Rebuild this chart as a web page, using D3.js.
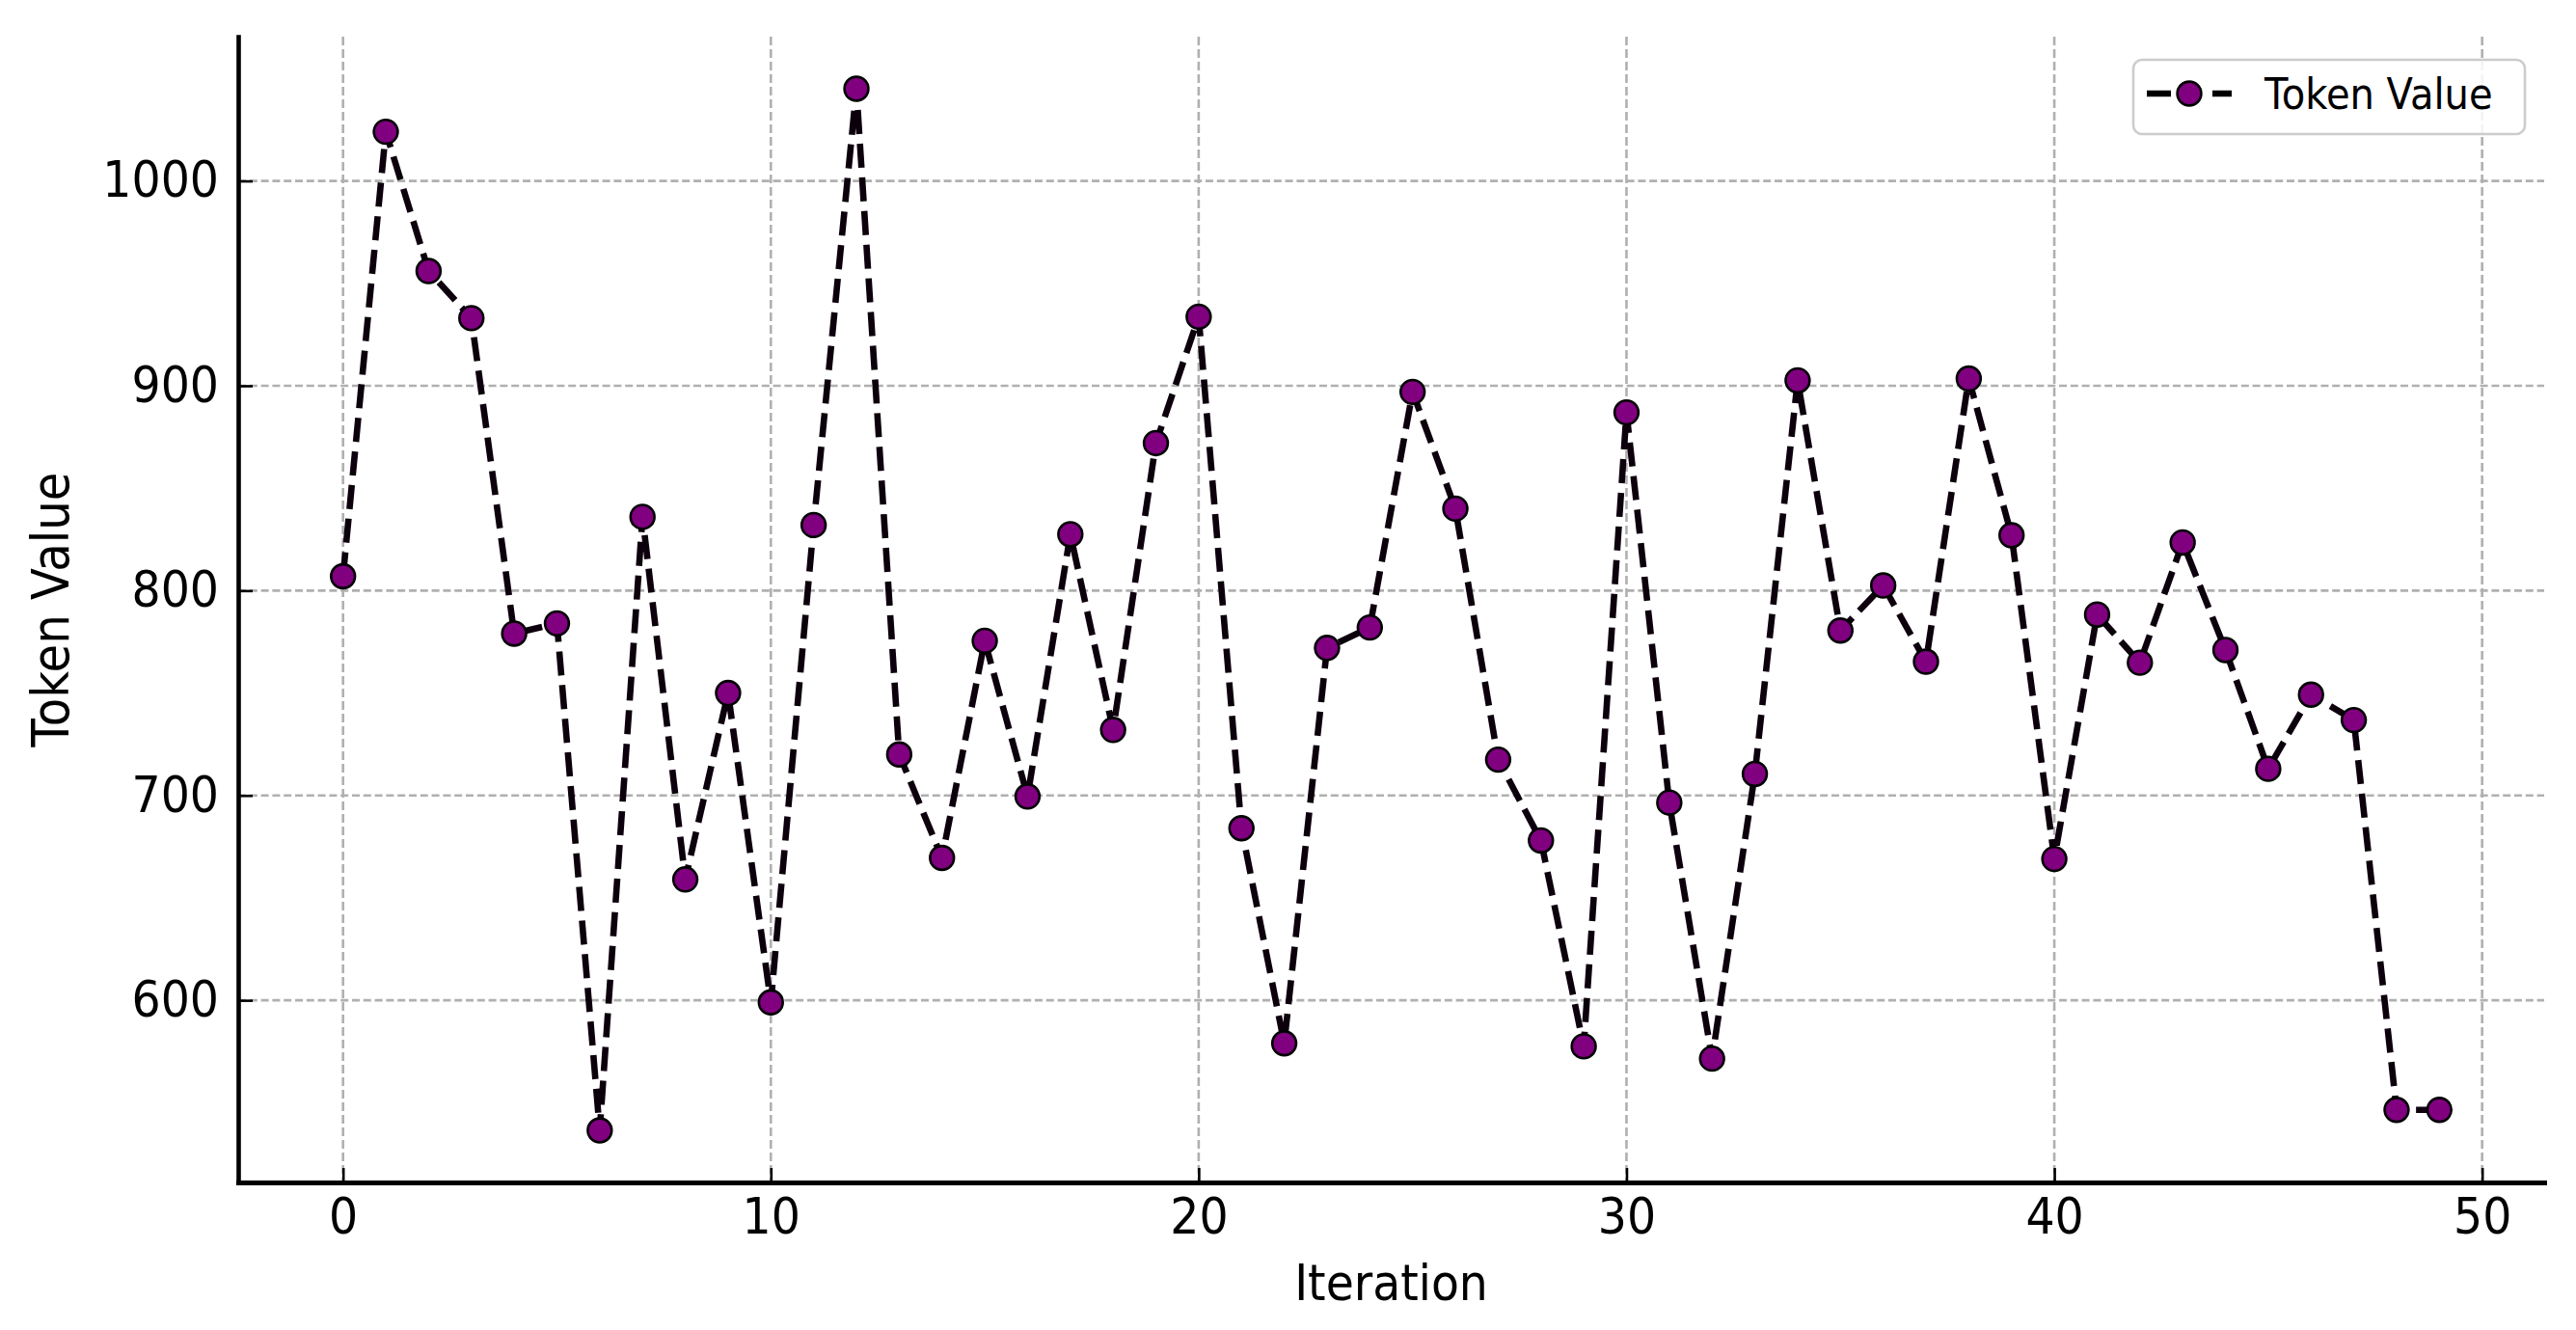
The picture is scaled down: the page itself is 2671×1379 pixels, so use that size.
<!DOCTYPE html>
<html><head><meta charset="utf-8">
<script src="https://cdn.jsdelivr.net/npm/d3@7"></script>
<style>
body{margin:0;background:#fff;}
svg text{font-family:"DejaVu Sans";fill:#000;}
</style></head>
<body>
<svg id="c" width="2671" height="1379"></svg>
<script>
// ---- data ----
const iterations = [0,1,2,3,4,5,6,7,8,9,10,11,12,13,14,15,16,17,18,19,20,21,22,23,24,25,26,27,28,29,30,31,32,33,34,35,36,37,38,39,40,41,42,43,44,45,46,47,48,49];
const tokenValues = [807,1024,956,933,779,784,536.5,836,659,750,599,832,1045,720,669.5,775.5,699.5,827.5,732,872,933.7,684,579,772,782,897,840,717.5,678,577.5,887,696.5,571.5,710.5,902.6,780.5,802.5,765.3,903.5,827,669,788.3,764.8,823.5,771,713,749.2,736.8,546.5,546.5];
const xTicks = [0,10,20,30,40,50];
const yTicks = [600,700,800,900,1000];
const seriesName = "Token Value";
const xLabel = "Iteration";
const yLabel = "Token Value";

// ---- layout ----
const W = 2671, H = 1379;
const m = {left:247, right:2638, top:38, bottom:1226};
const svg = d3.select("#c");
svg.append("rect").attr("width",W).attr("height",H).attr("fill","#fff");

const xr = d3.extent(iterations), xPad = (xr[1]-xr[0])*0.05;
const x = d3.scaleLinear().domain([xr[0]-xPad, xr[1]+xPad]).range([m.left, m.right]);
const yr = d3.extent(tokenValues), yPad = (yr[1]-yr[0])*0.05;
const y = d3.scaleLinear().domain([yr[0]-yPad, yr[1]+yPad]).range([m.bottom, m.top]);

// ---- grid ----
const grid = svg.append("g");
grid.selectAll("line.h").data(yTicks).join("line").attr("class","h")
  .attr("x1",m.left).attr("x2",m.right).attr("y1",d=>y(d)).attr("y2",d=>y(d))
  .attr("stroke","#b0b0b0").attr("stroke-width",2.6).attr("stroke-dasharray","8,3.8");
grid.selectAll("line.v").data(xTicks).join("line").attr("class","v")
  .attr("x1",d=>x(d)).attr("x2",d=>x(d)).attr("y1",m.top).attr("y2",m.bottom)
  .attr("stroke","#b0b0b0").attr("stroke-width",2.6).attr("stroke-dasharray","9,4");

// ---- series ----
const line = d3.line().x((d,i)=>x(iterations[i])).y(d=>y(d));
svg.append("path").datum(tokenValues).attr("d",line)
  .attr("fill","none").attr("stroke","#0d000d").attr("stroke-width",6.6)
  .attr("stroke-dasharray","25,10").attr("stroke-linejoin","round");
svg.append("g").selectAll("circle").data(tokenValues).join("circle")
  .attr("cx",(d,i)=>x(iterations[i])).attr("cy",d=>y(d)).attr("r",12.4)
  .attr("fill","#800080").attr("stroke","#000").attr("stroke-width",2.6);

// ---- axes ----
const xAxis = d3.axisBottom(x).tickValues(xTicks).tickSizeInner(-15).tickSizeOuter(0).tickPadding(17).tickFormat(d3.format("d"));
const gx = svg.append("g").attr("transform",`translate(0,${m.bottom})`).call(xAxis)
  .attr("font-family","DejaVu Sans").attr("font-size",51);
gx.select(".domain").attr("stroke-width",5).attr("stroke-linecap","square");
gx.selectAll(".tick line").attr("stroke-width",2.6);
gx.selectAll(".tick text").style("transform-box","fill-box").style("transform-origin","center").style("transform","scaleX(0.93)");

const yAxis = d3.axisLeft(y).tickValues(yTicks).tickSizeInner(-15).tickSizeOuter(0).tickPadding(20).tickFormat(d3.format("d"));
const gy = svg.append("g").attr("transform",`translate(${m.left},0)`).call(yAxis)
  .attr("font-family","DejaVu Sans").attr("font-size",51);
gy.select(".domain").attr("stroke-width",4.6).attr("stroke-linecap","square");
gy.selectAll(".tick line").attr("stroke-width",2.6);
gy.selectAll(".tick text").style("transform-box","fill-box").style("transform-origin","right center").style("transform","scaleX(0.93)");

// ---- axis labels ----
svg.append("text").attr("transform",`translate(${(m.left+m.right)/2},1348) scale(0.91,1)`)
  .attr("text-anchor","middle").attr("font-size",52).text(xLabel);
svg.append("text").attr("transform",`translate(71,${(m.top+m.bottom)/2}) rotate(-90) scale(0.91,1)`)
  .attr("text-anchor","middle").attr("font-size",53).text(yLabel);

// ---- legend ----
const lg = svg.append("g");
lg.append("rect").attr("x",2212).attr("y",62).attr("width",406).attr("height",77).attr("rx",9)
  .attr("fill","#fff").attr("fill-opacity",0.85).attr("stroke","#cccccc").attr("stroke-width",2.6);
lg.append("line").attr("x1",2226).attr("x2",2314).attr("y1",97).attr("y2",97)
  .attr("stroke","#000").attr("stroke-width",6.6).attr("stroke-dasharray","25,43,20");
lg.append("circle").attr("cx",2270).attr("cy",97).attr("r",12.4)
  .attr("fill","#800080").attr("stroke","#000").attr("stroke-width",2.6);
lg.append("text").attr("transform","translate(2348,113) scale(0.89,1)")
  .attr("font-size",45).text(seriesName);
</script>
</body></html>
